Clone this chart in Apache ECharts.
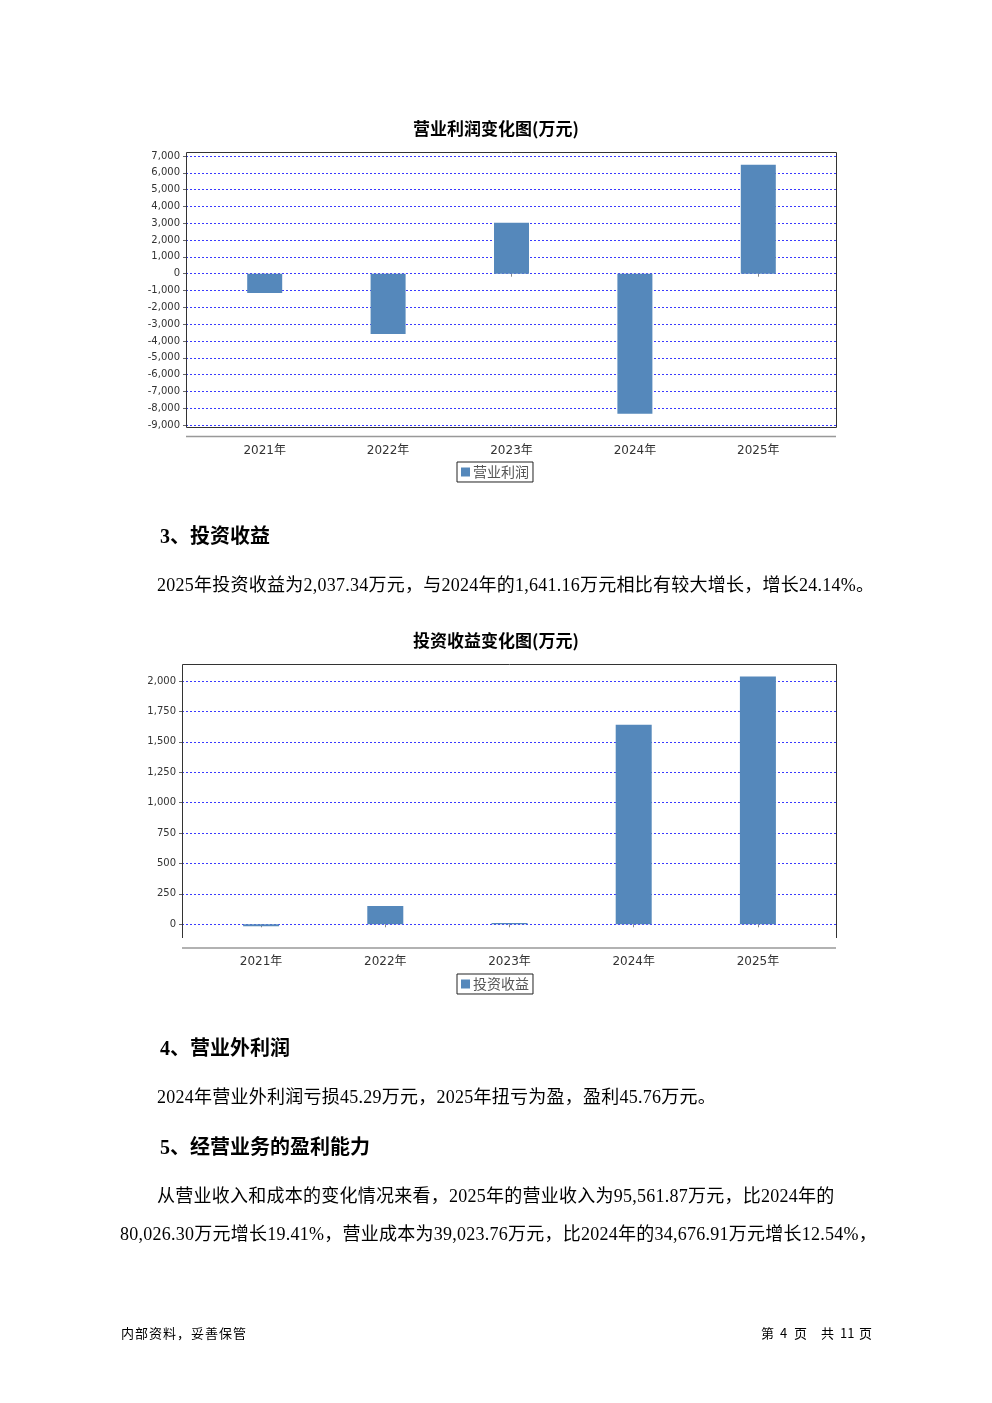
<!DOCTYPE html>
<html><head><meta charset="utf-8">
<script src="https://cdn.jsdelivr.net/npm/echarts@6/dist/echarts.min.js"></script>
<style>
html,body{margin:0;padding:0;background:#fff;}
#page{position:relative;width:992px;height:1403px;overflow:hidden;}
#chart{position:absolute;left:0;top:0;width:992px;height:1403px;}
.t{position:absolute;white-space:nowrap;line-height:1;color:#000;font-family:"Liberation Serif","Noto Sans CJK SC",serif;}
.h{font-size:20px;font-weight:bold;}
.p{font-size:18px;letter-spacing:0.25px;}
.f{font-size:13px;font-family:"Noto Sans CJK SC",sans-serif;}
</style></head>
<body><div id="page">
<div id="chart"></div>
<div class="t h" style="left:160px;top:526px;">3、投资收益</div>
<div class="t p" style="left:157px;top:576px;">2025年投资收益为2,037.34万元，与2024年的1,641.16万元相比有较大增长，增长24.14%。</div>
<div class="t h" style="left:160px;top:1038px;">4、营业外利润</div>
<div class="t p" style="left:157px;top:1088px;">2024年营业外利润亏损45.29万元，2025年扭亏为盈，盈利45.76万元。</div>
<div class="t h" style="left:160px;top:1137px;">5、经营业务的盈利能力</div>
<div class="t p" style="left:157px;top:1187px;">从营业收入和成本的变化情况来看，2025年的营业收入为95,561.87万元，比2024年的</div>
<div class="t p" style="left:120px;top:1225px;">80,026.30万元增长19.41%，营业成本为39,023.76万元，比2024年的34,676.91万元增长12.54%，</div>
<div class="t f" style="left:121px;top:1326px;letter-spacing:1px;">内部资料，妥善保管</div>
<div class="t f" style="left:761px;top:1326px;">第</div>
<div class="t f" style="left:780px;top:1326px;">4</div>
<div class="t f" style="left:794px;top:1326px;">页</div>
<div class="t f" style="left:821px;top:1326px;">共</div>
<div class="t f" style="left:840px;top:1326px;">11</div>
<div class="t f" style="left:859px;top:1326px;">页</div>
</div>
<script>
// ---- data ----
const years = ['2021年', '2022年', '2023年', '2024年', '2025年'];
const opProfitName = '营业利润';
const opProfit = [-1150, -3580, 3030, -8330, 6480];
const invIncomeName = '投资收益';
const invIncome = [-15, 150, 10, 1641.16, 2037.34];
const chart1Title = '营业利润变化图(万元)';
const chart2Title = '投资收益变化图(万元)';

// ---- styles ----
const barColor = '#5588bb';
const gridBlue = '#3a3aff';
const fontFam = 'DejaVu Sans, Noto Sans CJK SC, sans-serif';
const fmt = v => v.toLocaleString('en-US');

const chart = echarts.init(document.getElementById('chart'));

function yDisplay(gi, min, max, interval) {
  return {
    gridIndex: gi, type: 'value', min: min, max: max, interval: interval,
    axisLine: {show: false},
    axisTick: {show: true, length: 3, lineStyle: {color: '#666'}},
    axisLabel: {margin: 6, fontSize: 10, color: '#333', fontFamily: fontFam, formatter: fmt},
    splitLine: {show: true, lineStyle: {color: gridBlue, type: [2, 2], width: 1}}
  };
}
function yHidden(gi, min, max) {
  return {gridIndex: gi, type: 'value', min: min, max: max, show: false};
}
function xCat(gi, offset, margin) {
  return {
    gridIndex: gi, type: 'category', data: years, offset: offset,
    axisLine: {show: false},
    axisTick: {show: true, alignWithLabel: true, length: 3, lineStyle: {color: '#888'}},
    axisLabel: {margin: margin, fontSize: 12, color: '#333', fontFamily: fontFam}
  };
}
function legendAt(name, top) {
  return {data: [name], left: 457, top: top, icon: 'rect', itemWidth: 9, itemHeight: 9,
    padding: [3, 4, 3, 4], borderColor: '#222', borderWidth: 1, borderRadius: 0,
    textStyle: {fontSize: 14, color: '#555', fontFamily: 'Noto Sans CJK SC', padding: [0, 0, 0, -2]}};
}

const option = {
  animation: false,
  title: [
    {text: chart1Title, left: 'center', top: 120, padding: 0,
     textStyle: {fontSize: 17, fontWeight: 'bold', color: '#000', fontFamily: 'Noto Sans CJK SC'}},
    {text: chart2Title, left: 'center', top: 632, padding: 0,
     textStyle: {fontSize: 17, fontWeight: 'bold', color: '#000', fontFamily: 'Noto Sans CJK SC'}}
  ],
  legend: [legendAt(opProfitName, 462), legendAt(invIncomeName, 974)],
  grid: [
    {left: 186, width: 650, top: 156, height: 269},
    {left: 203, width: 617, top: 156, height: 269},
    {left: 182, width: 654, top: 681, height: 243.3},
    {left: 199, width: 621, top: 664, height: 274.9}
  ],
  xAxis: [
    {gridIndex: 0, type: 'value', min: 0, max: 1, show: false},
    xCat(1, 11, 9),
    {gridIndex: 2, type: 'value', min: 0, max: 1, show: false},
    xCat(3, 9, 8)
  ],
  yAxis: [
    yDisplay(0, -9000, 7000, 1000),
    yHidden(1, -9000, 7000),
    yDisplay(2, 0, 2000, 250),
    yHidden(3, -120, 2140)
  ],
  series: [
    {name: opProfitName, type: 'bar', xAxisIndex: 1, yAxisIndex: 1, data: opProfit,
     barWidth: 35, itemStyle: {color: barColor}},
    {name: invIncomeName, type: 'bar', xAxisIndex: 3, yAxisIndex: 3, data: invIncome,
     barWidth: 36, itemStyle: {color: barColor}}
  ],
  graphic: [
    {type: 'rect', shape: {x: 186.5, y: 152.5, width: 650, height: 275}, z: 50,
     style: {fill: 'none', stroke: '#333', lineWidth: 1}},
    {type: 'line', shape: {x1: 186, y1: 436.5, x2: 836, y2: 436.5}, z: 50,
     style: {stroke: '#999', lineWidth: 1.5}},
    {type: 'polyline', shape: {points: [[182.5, 938], [182.5, 664.5], [836.5, 664.5], [836.5, 938]]}, z: 50,
     style: {fill: 'none', stroke: '#333', lineWidth: 1}},
    {type: 'line', shape: {x1: 182, y1: 948, x2: 836, y2: 948}, z: 50,
     style: {stroke: '#999', lineWidth: 1.5}}
  ]
};
chart.setOption(option);
</script>
</body></html>
